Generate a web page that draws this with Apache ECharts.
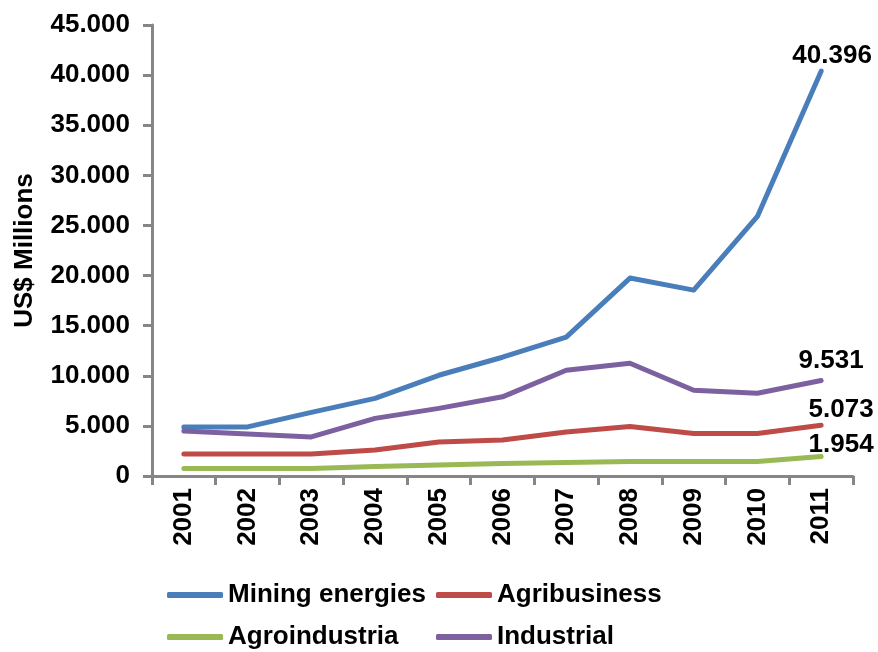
<!DOCTYPE html>
<html>
<head>
<meta charset="utf-8">
<script src="https://cdn.jsdelivr.net/npm/echarts@6/dist/echarts.min.js"></script>
<style>
  html, body { margin: 0; padding: 0; background: #fff; }
  #chart { width: 878px; height: 652px; }
</style>
</head>
<body>
<div id="chart"></div>
<script>
const years = ['2001', '2002', '2003', '2004', '2005', '2006', '2007', '2008', '2009', '2010', '2011']
const mining = [4900, 4900, 6350, 7750, 10050, 11850, 13850, 19750, 18550, 25900, 40396]
const agribusiness = [2200, 2200, 2200, 2600, 3400, 3600, 4400, 4950, 4250, 4250, 5073]
const agroindustria = [750, 750, 750, 950, 1100, 1250, 1350, 1450, 1450, 1450, 1954]
const industrial = [4500, 4200, 3900, 5750, 6750, 7900, 10550, 11250, 8550, 8250, 9531]

const font = 'Liberation Sans, Arial, sans-serif'
const fmt = v => String(v).replace(/\B(?=(\d{3})+(?!\d))/g, '.')

// only the last point gets a value label
function withEndLabel (values, offset) {
  return values.map((v, i) => i < values.length - 1 ? v : {
    value: v,
    label: {
      show: true,
      position: 'top',
      distance: 5,
      offset,
      formatter: p => fmt(p.value),
      color: '#000',
      fontFamily: font,
      fontWeight: 'bold',
      fontSize: 26
    }
  })
}

function line (name, color, values, offset) {
  return {
    name,
    type: 'line',
    data: withEndLabel(values, offset),
    showSymbol: true,
    symbol: 'circle',
    symbolSize: 0,
    lineStyle: { color, width: 5, cap: 'round', join: 'round' },
    itemStyle: { color },
    emphasis: { disabled: true },
    animation: false
  }
}

const legendText = { color: '#000', fontFamily: font, fontWeight: 'bold', fontSize: 26 }
const legendBase = {
  orient: 'vertical',
  top: 582,
  height: 90,
  padding: 0,
  itemWidth: 56,
  itemHeight: 6,
  itemGap: 16,
  icon: 'roundRect',
  textStyle: legendText
}

const chart = echarts.init(document.getElementById('chart'), null, { renderer: 'canvas' })
chart.setOption({
  backgroundColor: '#fff',
  grid: { left: 152, right: 25, top: 25, bottom: 176, containLabel: false },
  legend: [
    Object.assign({ data: ['Mining energies', 'Agroindustria'], left: 167 }, legendBase),
    Object.assign({ data: ['Agribusiness', 'Industrial'], left: 436 }, legendBase)
  ],
  xAxis: {
    type: 'category',
    data: years,
    boundaryGap: true,
    axisLine: { lineStyle: { color: '#868686', width: 3 } },
    axisTick: { show: true, length: 9, lineStyle: { color: '#868686', width: 3 } },
    axisLabel: {
      rotate: 90,
      margin: 12,
      color: '#000',
      fontFamily: font,
      fontWeight: 'bold',
      fontSize: 26
    },
    splitLine: { show: false }
  },
  yAxis: {
    type: 'value',
    min: 0,
    max: 45000,
    interval: 5000,
    name: 'US$ Millions',
    nameLocation: 'middle',
    nameGap: 114,
    nameRotate: 90,
    nameTextStyle: { color: '#000', fontFamily: font, fontWeight: 'bold', fontSize: 26 },
    axisLine: { show: true, lineStyle: { color: '#868686', width: 3 } },
    axisTick: { show: true, length: 9, lineStyle: { color: '#868686', width: 3 } },
    axisLabel: {
      margin: 22,
      color: '#000',
      fontFamily: font,
      fontWeight: 'bold',
      fontSize: 26,
      formatter: fmt
    },
    splitLine: { show: false }
  },
  series: [
    line('Mining energies', '#4a7ebb', mining, [11, 3]),
    line('Agribusiness', '#be4b48', agribusiness, [20, 3]),
    line('Agroindustria', '#98b954', agroindustria, [20, 6]),
    line('Industrial', '#7d60a0', industrial, [10, -2])
  ]
})
</script>
</body>
</html>
